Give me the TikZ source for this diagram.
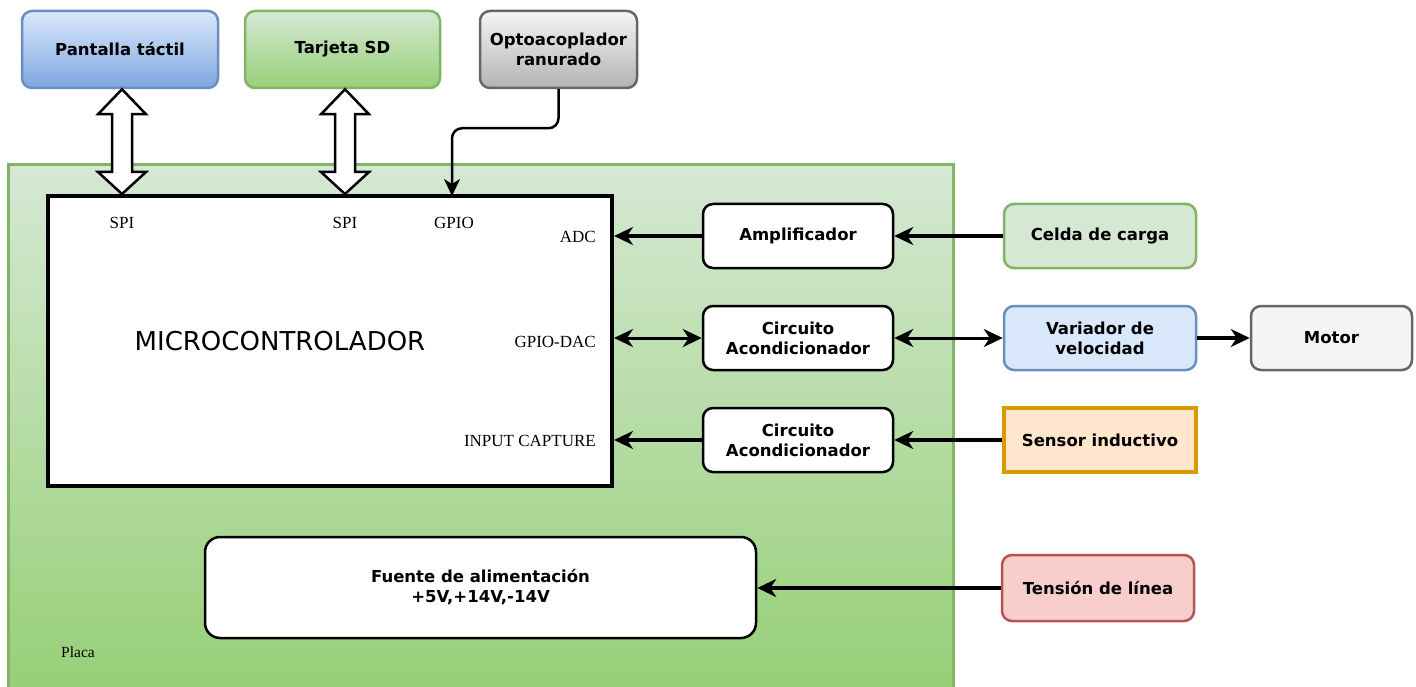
\documentclass[tikz,border=0pt]{standalone}
\usepackage{fontspec}
\setmainfont{Liberation Serif}
\newfontfamily\lab{DejaVu Sans}
\usetikzlibrary{arrows.meta,calc,positioning}
\definecolor{gTop}{HTML}{D5E8D4}
\definecolor{gBot}{HTML}{97D077}
\definecolor{gLine}{HTML}{82B366}
\definecolor{bTop}{HTML}{DAE8FC}
\definecolor{bBot}{HTML}{7EA6E0}
\definecolor{bLine}{HTML}{6C8EBF}
\definecolor{yTop}{HTML}{F5F5F5}
\definecolor{yBot}{HTML}{B3B3B3}
\definecolor{yLine}{HTML}{666666}
\definecolor{oFill}{HTML}{FFE6CC}
\definecolor{oLine}{HTML}{D79B00}
\definecolor{rFill}{HTML}{F8CECC}
\definecolor{rLine}{HTML}{B85450}
\tikzset{
  lbl/.style={font=\lab\bfseries\fontsize{16.5}{20}\selectfont, align=center, inner sep=0pt},
  box/.style={lbl, draw, rounded corners=10, line width=2.5pt, minimum width=190pt, minimum height=64pt},
  blk/.style={box, fill=white, draw=black},
  port/.style={font=\fontsize{17}{19}\selectfont, inner sep=0pt},
  thick arrow/.style={line width=4.5pt, -{Stealth[length=19pt,width=18pt,inset=6pt]}},
  dbl arrow/.style={line width=3pt, {Stealth[length=19pt,width=18pt,inset=6pt]}-{Stealth[length=19pt,width=18pt,inset=6pt]}},
  thin arrow/.style={line width=2.5pt, -{Stealth[length=17pt,width=16pt,inset=5pt]}},
  hollow/.style={draw=black, fill=white, line width=2.5pt, line join=miter},
}
\newcommand{\hollowarrow}[2]{%
  \draw[hollow] (#1) -- ($(#1)+(24,25)$) -- ($(#1)+(10,25)$) -- ($(#2)+(10,-22)$) -- ($(#2)+(24,-22)$) -- (#2)
    -- ($(#2)+(-24,-22)$) -- ($(#2)+(-10,-22)$) -- ($(#1)+(-10,25)$) -- ($(#1)+(-24,25)$) -- cycle;}
\begin{document}
\begin{tikzpicture}[x=1pt,y=-1pt]
\useasboundingbox (0,0) rectangle (1416,687);
% board
\path[top color=gTop, bottom color=gBot] (8,165) rectangle (953,686);
\draw[gLine, line width=3pt] (8,687.5) -- (8,165) -- (953,165) -- (953,687.5);
\node[port, font=\fontsize{15.5}{17}\selectfont] (placa) at (78,652) {Placa};

% top boxes
\node[box, minimum width=196pt, minimum height=77pt, draw=bLine, top color=bTop, bottom color=bBot] (pant) at (120,49.5) {Pantalla táctil};
\node[box, minimum width=195pt, minimum height=77pt, draw=gLine, top color=gTop, bottom color=gBot] (sd) at (342.5,49.5) {Tarjeta SD};
\node[box, minimum width=157pt, minimum height=77pt, draw=yLine, top color=yTop, bottom color=yBot] (opto) at (558.5,49.5) {Optoacoplador\\ranurado};

% microcontroller
\node[draw=black, fill=white, line width=4pt, minimum width=564pt, minimum height=290pt, inner sep=0pt] (micro) at (330,341) {};
\node[font=\lab\fontsize{26}{29}\selectfont, inner sep=0pt] (mctxt) at (280,341) {MICROCONTROLADOR};
\node[port] (spi1) at (122,223) {SPI};
\node[port] (spi2) at (345,223) {SPI};
\node[port] (gpio) at (454,223) {GPIO};
\node[port, anchor=east] (adc) at (596,237) {ADC};
\node[port, anchor=east] (gdac) at (596,342) {GPIO-DAC};
\node[port, anchor=east] (icap) at (596,441) {INPUT CAPTURE};

% inner blocks
\node[blk] (amp) at (798,236) {Amplificador};
\node[blk] (ca1) at (798,338) {Circuito\\Acondicionador};
\node[blk] (ca2) at (798,440) {Circuito\\Acondicionador};
\node[blk, rounded corners=15, minimum width=551pt, minimum height=101pt] (fuente) at (480.5,587.5) {Fuente de alimentación\\+5V,+14V,-14V};

% right blocks
\node[box, minimum width=192pt, draw=gLine, fill=gTop] (celda) at (1100,236) {Celda de carga};
\node[box, minimum width=192pt, draw=bLine, fill=bTop] (var) at (1100,338) {Variador de\\velocidad};
\node[box, minimum width=161pt, draw=yLine, fill=yTop] (motor) at (1331.5,338) {Motor};
\node[box, rounded corners=0, line width=3.5pt, minimum width=192pt, draw=oLine, fill=oFill] (sens) at (1100,440) {Sensor inductivo};
\node[box, minimum width=192pt, minimum height=66pt, draw=rLine, fill=rFill] (tens) at (1098,588) {Tensión de línea};

% hollow bus arrows
\coordinate (p1t) at (spi1 |- pant.south);
\coordinate (p1b) at (spi1 |- micro.north);
\coordinate (p2t) at (spi2 |- sd.south);
\coordinate (p2b) at (spi2 |- micro.north);
\hollowarrow{p1t}{p1b}
\hollowarrow{p2t}{p2b}

% GPIO line
\coordinate (gin) at (452,196);
\draw[thin arrow, rounded corners=10] (opto.south) -- ++(0,39) -| (gin);

% signal arrows
\draw[thick arrow] (celda.west) -- (amp.east);
\draw[thick arrow] (amp.west) -- (micro.east |- amp.west);
\draw[dbl arrow] (micro.east |- ca1.west) -- (ca1.west);
\draw[dbl arrow] (ca1.east) -- (var.west);
\draw[thick arrow] (var.east) -- (motor.west);
\draw[thick arrow] (sens.west) -- (ca2.east);
\draw[thick arrow] (ca2.west) -- (micro.east |- ca2.west);
\draw[thick arrow, line width=4pt] (tens.west) -- (fuente.east |- tens.west);
\end{tikzpicture}
\end{document}
